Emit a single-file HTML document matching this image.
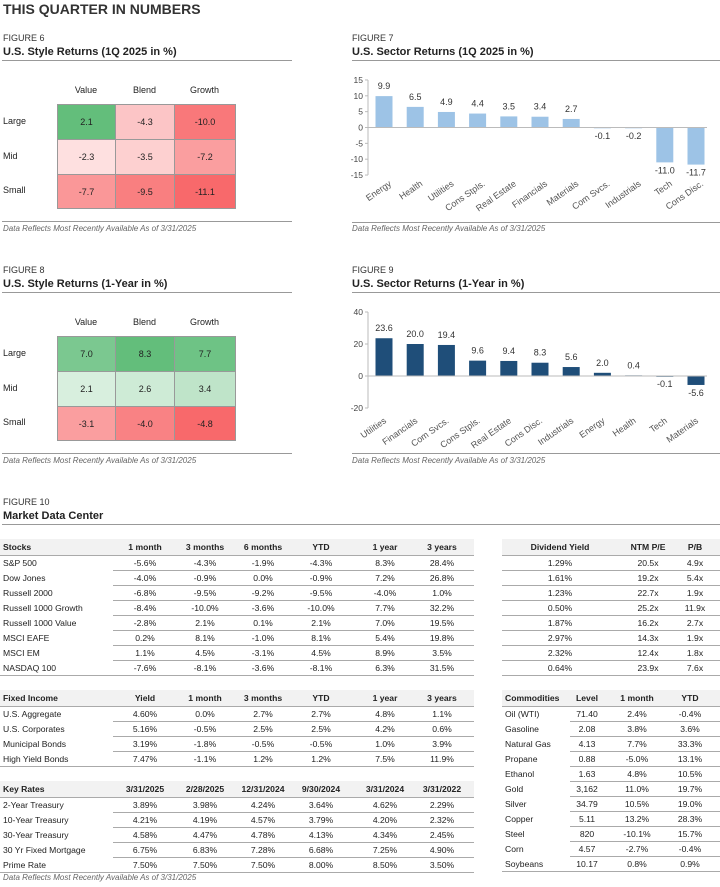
<!DOCTYPE html>
<html><head><meta charset="utf-8">
<style>
body{margin:0;background:#fff;width:720px;height:887px;position:relative;overflow:hidden;font-family:"Liberation Sans",sans-serif;color:#222}
.a{position:absolute;white-space:nowrap}
.fig{font-size:9px;color:#333}
.ttl{font-size:11px;font-weight:bold;color:#222}
.hl{position:absolute;height:1px;background:#999}
.foot{font-size:8px;font-style:italic;color:#666}
.cell{position:absolute;box-sizing:border-box;border:1px solid #999;font-size:9px;display:flex;align-items:center;justify-content:center}
.t{font-size:8.6px;position:absolute;white-space:nowrap}
.c{transform:translateX(-50%)}
.b{font-weight:bold}
.hbg{position:absolute;background:#f2f2f2}
</style></head><body>
<div class="a" style="left:3px;top:1px;font-size:14px;font-weight:bold;color:#333">THIS QUARTER IN NUMBERS</div>

<div class="a fig" style="left:3px;top:33px">FIGURE 6</div>
<div class="a ttl" style="left:3px;top:46px">U.S. Style Returns (1Q 2025 in %)</div>
<div class="hl" style="left:2px;top:60px;width:290px"></div>
<div id="hm6"></div>
<div class="hl" style="left:2px;top:221px;width:290px"></div>
<div class="a foot" style="left:3px;top:224px">Data Reflects Most Recently Available As of 3/31/2025</div>

<div class="a fig" style="left:352px;top:33px">FIGURE 7</div>
<div class="a ttl" style="left:352px;top:46px">U.S. Sector Returns (1Q 2025 in %)</div>
<div class="hl" style="left:352px;top:60px;width:368px"></div>
<svg id="c7" class="a" style="left:0;top:0" width="720" height="887"></svg>
<div class="hl" style="left:352px;top:222px;width:368px"></div>
<div class="a foot" style="left:352px;top:224px">Data Reflects Most Recently Available As of 3/31/2025</div>

<div class="a fig" style="left:3px;top:265px">FIGURE 8</div>
<div class="a ttl" style="left:3px;top:278px">U.S. Style Returns (1-Year in %)</div>
<div class="hl" style="left:2px;top:292px;width:290px"></div>
<div id="hm8"></div>
<div class="hl" style="left:2px;top:453px;width:290px"></div>
<div class="a foot" style="left:3px;top:456px">Data Reflects Most Recently Available As of 3/31/2025</div>

<div class="a fig" style="left:352px;top:265px">FIGURE 9</div>
<div class="a ttl" style="left:352px;top:278px">U.S. Sector Returns (1-Year in %)</div>
<div class="hl" style="left:352px;top:292px;width:368px"></div>
<svg id="c9" class="a" style="left:0;top:0" width="720" height="887"></svg>
<div class="hl" style="left:352px;top:453px;width:368px"></div>
<div class="a foot" style="left:352px;top:456px">Data Reflects Most Recently Available As of 3/31/2025</div>

<div class="a fig" style="left:3px;top:497px">FIGURE 10</div>
<div class="a ttl" style="left:3px;top:510px">Market Data Center</div>
<div class="hl" style="left:2px;top:524px;width:718px"></div>
<div id="tables"></div>
<div class="a foot" style="left:3px;top:873px">Data Reflects Most Recently Available As of 3/31/2025</div>

<script>
// Heatmap data
const styleCols=["Value","Blend","Growth"];
const styleRows=["Large","Mid","Small"];
const style1Q=[[2.1,-4.3,-10.0],[-2.3,-3.5,-7.2],[-7.7,-9.5,-11.1]];
const style1Y=[[7.0,8.3,7.7],[2.1,2.6,3.4],[-3.1,-4.0,-4.8]];
// Bar chart data
const sectors1Q=["Energy","Health","Utilities","Cons Stpls.","Real Estate","Financials","Materials","Com Svcs.","Industrials","Tech","Cons Disc."];
const values1Q=[9.9,6.5,4.9,4.4,3.5,3.4,2.7,-0.1,-0.2,-11.0,-11.7];
const ticks1Q=[15,10,5,0,-5,-10,-15];
const sectors1Y=["Utilities","Financials","Com Svcs.","Cons Stpls.","Real Estate","Cons Disc.","Industrials","Energy","Health","Tech","Materials"];
const values1Y=[23.6,20.0,19.4,9.6,9.4,8.3,5.6,2.0,0.4,-0.1,-5.6];
const ticks1Y=[40,20,0,-20];

function mix(a,b,t){return 'rgb('+a.map((v,i)=>Math.round(v+(b[i]-v)*t)).join(',')+')';}
function heat(id,vals,top){
  const host=document.getElementById(id);
  const flat=vals.flat(),mx=Math.max(...flat),mn=Math.min(...flat);
  const xs=[57,115,174,235],ys=[top+14,top+49,top+84,top+118];
  styleCols.forEach((c,j)=>{const d=document.createElement('div');d.className='a';
    
    
    d.style.cssText=`left:${(xs[j]+xs[j+1])/2}px;top:${top-5}px;font-size:9px;transform:translateX(-50%)`;d.textContent=c;host.appendChild(d);});
  styleRows.forEach((r,i)=>{const d=document.createElement('div');d.className='a';
    
    
    d.style.cssText=`left:3px;top:${(ys[i]+ys[i+1])/2-6}px;font-size:9px`;d.textContent=r;host.appendChild(d);
    vals[i].forEach((v,j)=>{const e=document.createElement('div');e.className='cell';
      
      
      const col=v>=0?mix([255,255,255],[99,190,123],mx>0?v/mx:0):mix([255,255,255],[248,105,107],v/mn);
      e.style.cssText=`left:${xs[j]}px;top:${ys[i]}px;width:${xs[j+1]-xs[j]+1}px;height:${ys[i+1]-ys[i]+1}px;background:${col}`;
      e.textContent=v.toFixed(1);host.appendChild(e);});});
}
heat('hm6',style1Q,90);heat('hm8',style1Y,322);

function bars(id,cats,vals,ticks,y0,scale,color,labY,labDX){
  const s=document.getElementById(id);const NS='http://www.w3.org/2000/svg';
  const yv=v=>y0-v*scale, xc=i=>384+31.2*i;
  function el(t,a,txt){const e=document.createElementNS(NS,t);for(const k in a)e.setAttribute(k,a[k]);if(txt!==undefined)e.textContent=txt;s.appendChild(e);return e;}
  const tmax=Math.max(...ticks),tmin=Math.min(...ticks);
  const ax=el('line',{x1:368,x2:368,y1:yv(tmax),y2:yv(tmin),stroke:'#bbb'});
  
  
  ticks.forEach(t=>{el('line',{x1:365,x2:368,y1:yv(t),y2:yv(t),stroke:'#bbb'});
    const tx=el('text',{x:363,y:yv(t)+3,'text-anchor':'end','font-size':'8.5',fill:'#444'},t);
    
    });
  vals.forEach((v,i)=>{const top=Math.min(yv(v),yv(0)),h=Math.abs(yv(v)-yv(0));
    const r=el('rect',{x:xc(i)-8.5,y:top,width:17,height:Math.max(h,0.8),fill:color});
    
    
    const lt=el('text',{x:xc(i),y:v>=0?top-7:top+h+11,'text-anchor':'middle','font-size':'9',fill:'#333'},v.toFixed(1));
    
    
    const cl=el('text',{x:xc(i)+labDX,y:labY,'text-anchor':'end','font-size':'9',fill:'#555',transform:`rotate(-35 ${xc(i)+labDX} ${labY})`},cats[i]);
    
    });
  const z=el('line',{x1:368,x2:707,y1:yv(0),y2:yv(0),stroke:'#bbb'});
  
  
}
bars('c7',sectors1Q,values1Q,ticks1Q,127.5,3.17,'#9dc3e6',185,8);
bars('c9',sectors1Y,values1Y,ticks1Y,376,1.6,'#1f4e79',422,3);

// Tables
const stocksHead=["Stocks","1 month","3 months","6 months","YTD","1 year","3 years"];
const stocksRows=[["S&P 500","-5.6%","-4.3%","-1.9%","-4.3%","8.3%","28.4%"],["Dow Jones","-4.0%","-0.9%","0.0%","-0.9%","7.2%","26.8%"],["Russell 2000","-6.8%","-9.5%","-9.2%","-9.5%","-4.0%","1.0%"],["Russell 1000 Growth","-8.4%","-10.0%","-3.6%","-10.0%","7.7%","32.2%"],["Russell 1000 Value","-2.8%","2.1%","0.1%","2.1%","7.0%","19.5%"],["MSCI EAFE","0.2%","8.1%","-1.0%","8.1%","5.4%","19.8%"],["MSCI EM","1.1%","4.5%","-3.1%","4.5%","8.9%","3.5%"],["NASDAQ 100","-7.6%","-8.1%","-3.6%","-8.1%","6.3%","31.5%"]];
const valHead=["Dividend Yield","NTM P/E","P/B"];
const valRows=[["1.29%","20.5x","4.9x"],["1.61%","19.2x","5.4x"],["1.23%","22.7x","1.9x"],["0.50%","25.2x","11.9x"],["1.87%","16.2x","2.7x"],["2.97%","14.3x","1.9x"],["2.32%","12.4x","1.8x"],["0.64%","23.9x","7.6x"]];
const fiHead=["Fixed Income","Yield","1 month","3 months","YTD","1 year","3 years"];
const fiRows=[["U.S. Aggregate","4.60%","0.0%","2.7%","2.7%","4.8%","1.1%"],["U.S. Corporates","5.16%","-0.5%","2.5%","2.5%","4.2%","0.6%"],["Municipal Bonds","3.19%","-1.8%","-0.5%","-0.5%","1.0%","3.9%"],["High Yield Bonds","7.47%","-1.1%","1.2%","1.2%","7.5%","11.9%"]];
const krHead=["Key Rates","3/31/2025","2/28/2025","12/31/2024","9/30/2024","3/31/2024","3/31/2022"];
const krRows=[["2-Year Treasury","3.89%","3.98%","4.24%","3.64%","4.62%","2.29%"],["10-Year Treasury","4.21%","4.19%","4.57%","3.79%","4.20%","2.32%"],["30-Year Treasury","4.58%","4.47%","4.78%","4.13%","4.34%","2.45%"],["30 Yr Fixed Mortgage","6.75%","6.83%","7.28%","6.68%","7.25%","4.90%"],["Prime Rate","7.50%","7.50%","7.50%","8.00%","8.50%","3.50%"]];
const comHead=["Commodities","Level","1 month","YTD"];
const comRows=[["Oil (WTI)","71.40","2.4%","-0.4%"],["Gasoline","2.08","3.8%","3.6%"],["Natural Gas","4.13","7.7%","33.3%"],["Propane","0.88","-5.0%","13.1%"],["Ethanol","1.63","4.8%","10.5%"],["Gold","3,162","11.0%","19.7%"],["Silver","34.79","10.5%","19.0%"],["Copper","5.11","13.2%","28.3%"],["Steel","820","-10.1%","15.7%"],["Corn","4.57","-2.7%","-0.4%"],["Soybeans","10.17","0.8%","0.9%"]];

const T=document.getElementById('tables');
function table(name,head,rows,x0,x1,top,cols,firstLeft,lineX){
  const bg=document.createElement('div');bg.className='hbg';
  
  
  bg.style.cssText=`left:${x0}px;top:${top}px;width:${x1-x0}px;height:16px`;T.appendChild(bg);
  const put=(txt,x,y,bold,center,nm)=>{const d=document.createElement('div');d.className='t'+(bold?' b':'')+(center?' c':'');
    
    
    d.style.left=x+'px';d.style.top=y+'px';d.textContent=txt;T.appendChild(d);};
  head.forEach((h,j)=>put(h,firstLeft&&j==0?x0+3:cols[j],top+3,true,!(firstLeft&&j==0),name+'-column-header'));
  const ln=(x,y,w)=>{const l=document.createElement('div');l.className='hl';l.style.cssText=`left:${x}px;top:${y}px;width:${w}px;background:#aaa`;T.appendChild(l);};
  ln(x0,top+16,x1-x0);
  rows.forEach((r,i)=>{const y=top+16+15*i;
    r.forEach((v,j)=>put(v,firstLeft&&j==0?x0+3:cols[j],y+3,false,!(firstLeft&&j==0),name+'-cell'));
    const last=i==rows.length-1;ln(last?x0:lineX,y+15,x1-(last?x0:lineX));});
}
table('stocks',stocksHead,stocksRows,0,474,539,[0,145,205,263,321,385,442],true,113);
table('valuation',valHead,valRows,502,720,539,[560,648,695],false,502);
table('fixed-income',fiHead,fiRows,0,474,690,[0,145,205,263,321,385,442],true,113);
table('key-rates',krHead,krRows,0,474,781,[0,145,205,263,321,385,442],true,113);
table('commodities',comHead,comRows,502,720,690,[0,587,637,690],true,570);
</script>
</body></html>
